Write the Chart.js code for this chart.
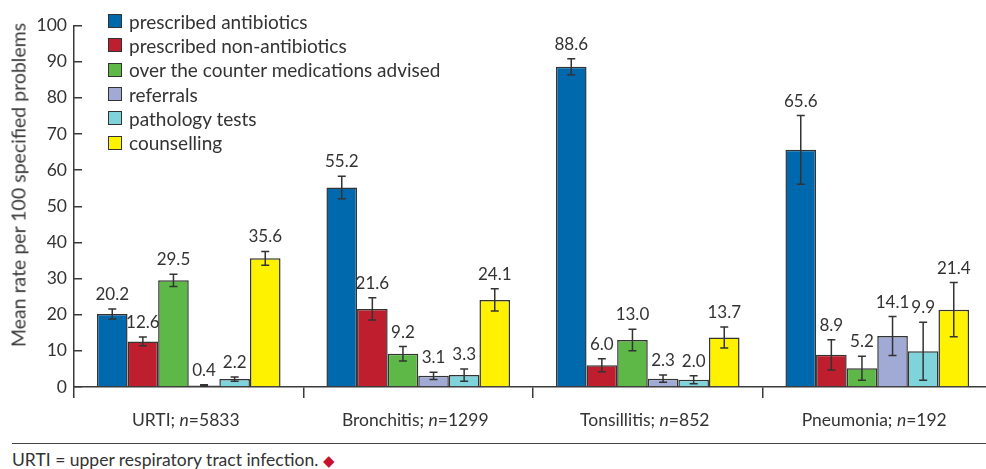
<!DOCTYPE html>
<html>
<head>
<meta charset="utf-8">
<script src="https://cdn.jsdelivr.net/npm/chart.js@4/dist/chart.umd.min.js"></script>
<style>
  html, body { margin: 0; padding: 0; background: #fff; overflow: hidden; width: 986px; height: 469px; }
  #wrap { position: relative; width: 986px; height: 469px; overflow: hidden; font-family: Lato, "Open Sans", sans-serif; color: #333; }
  #chartBox { position: absolute; left: 0; top: 0; width: 992px; height: 440px; }
  #ytitle { position: absolute; left: 18px; top: 185px; transform: translate(-50%, -50%) rotate(-90deg); white-space: nowrap; font-size: 19.5px; font-weight: 400; color: #3a3a3a; }
  #legend { position: absolute; left: 108px; top: 9px; font-size: 19px; color: #333; }
  .li { display: flex; align-items: center; height: 24.3px; white-space: nowrap; }
  .sw { width: 12px; height: 12px; border: 1.5px solid #333; margin-right: 7px; box-sizing: content-box; }
  #footline { position: absolute; left: 12px; right: 0; top: 443px; border-top: 1.5px solid #444; }
  #foot { position: absolute; left: 12px; top: 449px; font-size: 17.5px; color: #333; white-space: nowrap; }
  #foot .dia { color: #C8102E; font-size: 15px; }
</style>
</head>
<body>
<div id="wrap">
  <div id="chartBox"><canvas id="c" width="992" height="440"></canvas></div>
  <div id="ytitle">Mean rate per 100 specified problems</div>
  <div id="legend"></div>
  <div id="footline"></div>
  <div id="foot">URTI = upper respiratory tract infection. <span class="dia">&#9670;</span></div>
</div>
<script>
// ---- data ----
const categories = ['URTI', 'Bronchitis', 'Tonsillitis', 'Pneumonia'];
const sampleSizes = [5833, 1299, 852, 192];
const seriesNames = ['prescribed antibiotics', 'prescribed non-antibiotics', 'over the counter medications advised', 'referrals', 'pathology tests', 'counselling'];
const seriesColors = ['#0068AC', '#BE1E2D', '#5DB847', '#A0AAD4', '#7FD3DA', '#FFF200'];

const antibiotics    = [20.2, 55.2, 88.6, 65.6];
const nonAntibiotics = [12.6, 21.6, 6.0, 8.9];
const otcAdvised     = [29.5, 9.2, 13.0, 5.2];
const referrals      = [0.4, 3.1, 2.3, 14.1];
const pathology      = [2.2, 3.3, 2.0, 9.9];
const counselling    = [35.6, 24.1, 13.7, 21.4];

const antibioticsErr    = [1.4, 3.1, 2.2, 9.5];
const nonAntibioticsErr = [1.2, 3.1, 1.8, 4.2];
const otcAdvisedErr     = [1.7, 2.0, 3.0, 3.3];
const referralsErr      = [0.2, 1.0, 1.0, 5.4];
const pathologyErr      = [0.6, 1.7, 1.1, 8.0];
const counsellingErr    = [1.9, 3.1, 2.9, 7.5];

const yTicks = [0, 10, 20, 30, 40, 50, 60, 70, 80, 90, 100];

const seriesValues = [antibiotics, nonAntibiotics, otcAdvised, referrals, pathology, counselling];
const seriesErrors = [antibioticsErr, nonAntibioticsErr, otcAdvisedErr, referralsErr, pathologyErr, counsellingErr];

const FONT = 'Lato, "Open Sans", sans-serif';
const TEXT = '#333';
const AXIS = '#3a3a3a';

// ---- legend (HTML) ----
const legendEl = document.getElementById('legend');
seriesNames.forEach((name, i) => {
  const row = document.createElement('div'); row.className = 'li';
  const sw = document.createElement('div'); sw.className = 'sw'; sw.style.background = seriesColors[i];
  const tx = document.createElement('span'); tx.textContent = name;
  row.appendChild(sw); row.appendChild(tx); legendEl.appendChild(row);
});

// ---- plugins ----
const errorBarsAndLabels = {
  id: 'errorBarsAndLabels',
  afterDatasetsDraw(chart) {
    const ctx = chart.ctx;
    const y = chart.scales.y;
    ctx.save();
    chart.data.datasets.forEach((ds, di) => {
      const meta = chart.getDatasetMeta(di);
      meta.data.forEach((bar, i) => {
        const v = ds.data[i];
        const e = ds.errors[i];
        const yt = y.getPixelForValue(v + e);
        const yb = y.getPixelForValue(Math.max(v - e, 0));
        ctx.strokeStyle = '#333';
        ctx.lineWidth = 1.5;
        ctx.beginPath();
        ctx.moveTo(bar.x, yt); ctx.lineTo(bar.x, yb);
        ctx.moveTo(bar.x - 4, yt); ctx.lineTo(bar.x + 4, yt);
        ctx.moveTo(bar.x - 4, yb); ctx.lineTo(bar.x + 4, yb);
        ctx.stroke();
        ctx.fillStyle = TEXT;
        ctx.font = '17px ' + FONT;
        ctx.textAlign = 'center';
        ctx.textBaseline = 'alphabetic';
        ctx.fillText(v.toFixed(1), bar.x, yt - 9);
      });
    });
    ctx.restore();
  }
};

const categoryLabels = {
  id: 'categoryLabels',
  afterDraw(chart) {
    const ctx = chart.ctx;
    const x = chart.scales.x;
    ctx.save();
    ctx.fillStyle = TEXT;
    ctx.textBaseline = 'alphabetic';
    ctx.textAlign = 'left';
    categories.forEach((cat, i) => {
      const parts = [
        { t: cat + '; ', f: '17.5px ' + FONT },
        { t: 'n', f: 'italic 17.5px ' + FONT },
        { t: '=' + sampleSizes[i], f: '17.5px ' + FONT }
      ];
      let w = 0;
      parts.forEach(p => { ctx.font = p.f; p.w = ctx.measureText(p.t).width; w += p.w; });
      let cx = x.getPixelForValue(i) - w / 2 - 3;
      const by = chart.chartArea.bottom + 39;
      parts.forEach(p => { ctx.font = p.f; ctx.fillText(p.t, cx, by); cx += p.w; });
    });
    ctx.restore();
  }
};

// ---- chart ----
new Chart(document.getElementById('c'), {
  type: 'bar',
  data: {
    labels: categories,
    datasets: seriesNames.map((name, i) => ({
      label: name,
      data: seriesValues[i],
      errors: seriesErrors[i],
      backgroundColor: seriesColors[i],
      borderColor: '#333',
      borderWidth: 1.5,
      borderSkipped: 'bottom',
      categoryPercentage: 0.8,
      barPercentage: 1.0
    }))
  },
  options: {
    responsive: false,
    animation: false,
    devicePixelRatio: 1,
    layout: { padding: { top: 10, left: 0, right: 0, bottom: 0 } },
    plugins: { legend: { display: false }, tooltip: { enabled: false } },
    scales: {
      x: {
        offset: true,
        grid: { offset: true, drawOnChartArea: false, drawTicks: true, tickLength: 11, color: AXIS, lineWidth: 1.5 },
        border: { display: true, color: AXIS, width: 1.5 },
        ticks: { display: false },
        afterFit(s) { s.height = 53; }
      },
      y: {
        min: 0, max: 100,
        afterBuildTicks(s) { s.ticks = yTicks.map(v => ({ value: v })); },
        grid: { drawOnChartArea: false, drawTicks: true, tickLength: -8, color: AXIS, lineWidth: 1.5 },
        border: { display: true, color: AXIS, width: 1.5 },
        ticks: { color: TEXT, font: { family: FONT, size: 17.5 }, padding: 15 },
        afterFit(s) { s.width = 74; }
      }
    }
  },
  plugins: [errorBarsAndLabels, categoryLabels]
});
</script>
</body>
</html>
